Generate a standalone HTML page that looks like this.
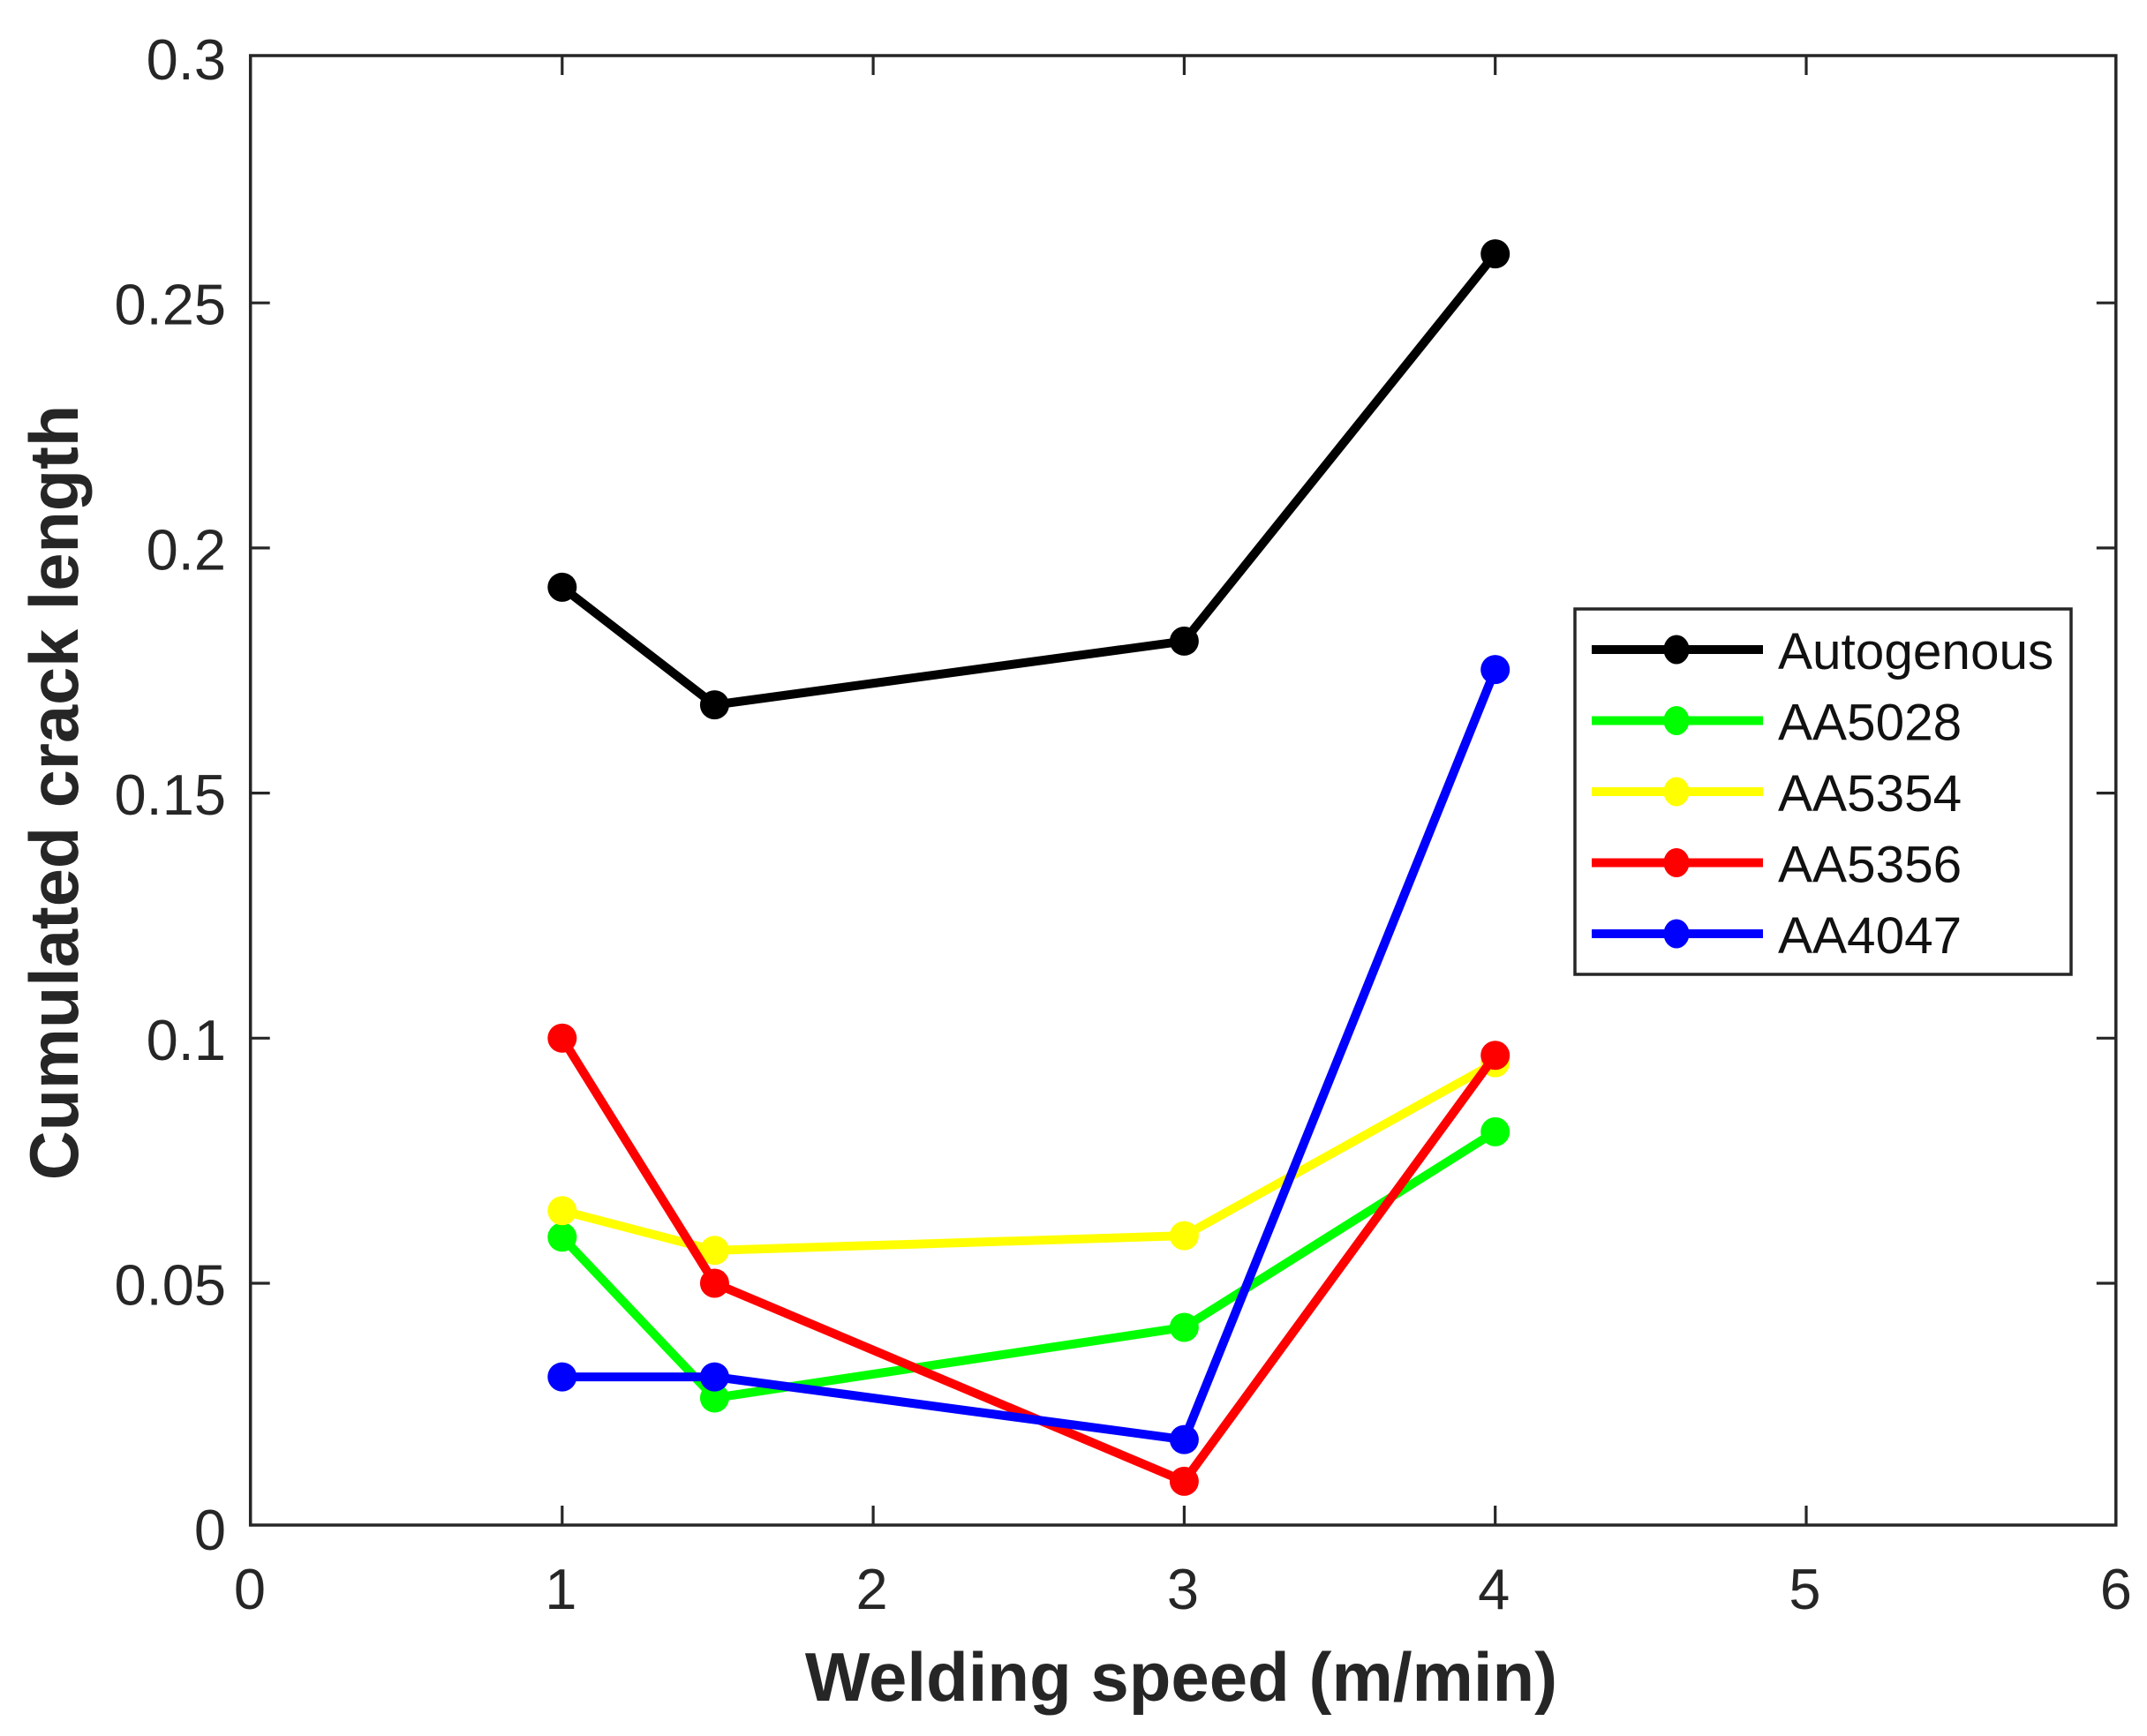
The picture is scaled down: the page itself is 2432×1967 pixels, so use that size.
<!DOCTYPE html>
<html lang="en">
<head>
<meta charset="utf-8">
<title>Cumulated crack length vs welding speed</title>
<style>
html,body{margin:0;padding:0;background:#fff;}
#chart{display:block;width:2432px;height:1967px;font-family:"Liberation Sans",Arial,sans-serif;}
</style>
</head>
<body>
<svg id="chart" xmlns="http://www.w3.org/2000/svg" width="2432" height="1967" viewBox="0 0 2432 1967">
  <rect x="0" y="0" width="2432" height="1967" fill="#ffffff"/>
  <g id="ticks"></g>
  <g id="series"></g>
  <rect x="283.7" y="63" width="2113.1" height="1665" fill="none" stroke="#262626" stroke-width="3.5"/>
  <g id="tick-labels"></g>
  <text x="1338" y="1927" text-anchor="middle" font-size="78" font-weight="700" fill="#262626">Welding speed (m/min)</text>
  <text x="88" y="898" text-anchor="middle" font-size="77.5" font-weight="700" fill="#262626" transform="rotate(-90 88 898)">Cumulated crack length</text>
  <g id="legend">
    <rect x="1784" y="690" width="562" height="414" fill="#ffffff" stroke="#262626" stroke-width="3.5"/>
  </g>
</svg>
<script>
const weldingSpeeds = [1, 1.49, 3, 4];
const seriesNames = ["Autogenous", "AA5028", "AA5354", "AA5356", "AA4047"];
const seriesColors = ["#000000", "#00ff00", "#ffff00", "#ff0000", "#0000ff"];
const autogenous = [0.192, 0.168, 0.181, 0.26];
const aa5028 = [0.0594, 0.0266, 0.041, 0.0809];
const aa5354 = [0.0648, 0.0567, 0.0597, 0.095];
const aa5356 = [0.1, 0.05, 0.0096, 0.0965];
const aa4047 = [0.0309, 0.0309, 0.0181, 0.1752];
const xTicks = [0, 1, 2, 3, 4, 5, 6];
const yTicks = [0, 0.05, 0.1, 0.15, 0.2, 0.25, 0.3];
const xTickLabels = ["0", "1", "2", "3", "4", "5", "6"];
const yTickLabels = ["0", "0.05", "0.1", "0.15", "0.2", "0.25", "0.3"];

const allSeries = [autogenous, aa5028, aa5354, aa5356, aa4047];
const NS = "http://www.w3.org/2000/svg";
const frameLeft = 283.7, frameRight = 2396.8, frameTop = 63, frameBottom = 1728;

function xScale(v) { return 284.5 + 352.3 * v; }
function yScale(v) { return 1731.7 - 5554 * v; }
function slug(s) { return s.toLowerCase().replace(/[^a-z0-9]+/g, "-"); }
function make(tag, attrs) {
  const el = document.createElementNS(NS, tag);
  for (const k in attrs) el.setAttribute(k, attrs[k]);
  return el;
}

const tickGroup = document.getElementById("ticks");
const labelGroup = document.getElementById("tick-labels");
const seriesGroup = document.getElementById("series");
const legendGroup = document.getElementById("legend");
const tickLen = 22;
const tickStyle = { stroke: "#262626", "stroke-width": 3.2 };

function addTick(x1, y1, x2, y2) {
  const t = make("line", Object.assign({ x1: x1, y1: y1, x2: x2, y2: y2 }, tickStyle));
  
  
  tickGroup.appendChild(t);
}

xTicks.forEach(function (v, i) {
  const px = xScale(v);
  if (i > 0 && i < xTicks.length - 1) {
    addTick(px, frameBottom, px, frameBottom - tickLen);
    addTick(px, frameTop, px, frameTop + tickLen);
  }
  const label = make("text", { x: px - 1.5, y: 1823, "text-anchor": "middle", "font-size": 65, fill: "#262626" });
  
  
  label.textContent = xTickLabels[i];
  labelGroup.appendChild(label);
});

yTicks.forEach(function (v, i) {
  const py = yScale(v);
  if (i > 0 && i < yTicks.length - 1) {
    addTick(frameLeft, py, frameLeft + tickLen, py);
    addTick(frameRight, py, frameRight - tickLen, py);
  }
  const label = make("text", { x: 256, y: py + 24.5, "text-anchor": "end", "font-size": 65, fill: "#262626" });
  
  
  label.textContent = yTickLabels[i];
  labelGroup.appendChild(label);
});

allSeries.forEach(function (values, s) {
  const color = seriesColors[s];
  const g = make("g", {});
  
  
  const pts = values.map(function (v, i) { return xScale(weldingSpeeds[i]) + "," + yScale(v); }).join(" ");
  const line = make("polyline", { points: pts, fill: "none", stroke: color, "stroke-width": 10, "stroke-linejoin": "round" });
  
  
  g.appendChild(line);
  values.forEach(function (v, i) {
    const dot = make("circle", { cx: xScale(weldingSpeeds[i]), cy: yScale(v), r: 16.5, fill: color });
    
    
    g.appendChild(dot);
  });
  seriesGroup.appendChild(g);
});

seriesNames.forEach(function (name, i) {
  const rowY = 736 + i * 80.5;
  const entry = make("g", {});
  
  
  const swatch = make("line", { x1: 1803, y1: rowY, x2: 1997, y2: rowY, stroke: seriesColors[i], "stroke-width": 10 });
  
  
  entry.appendChild(swatch);
  const marker = make("ellipse", { cx: 1899, cy: rowY, rx: 14.5, ry: 16.5, fill: seriesColors[i] });
  
  
  entry.appendChild(marker);
  const text = make("text", { x: 2014, y: rowY + 22, "font-size": 58.5, fill: "#111111" });
  
  
  text.textContent = name;
  entry.appendChild(text);
  legendGroup.appendChild(entry);
});
</script>
</body>
</html>
